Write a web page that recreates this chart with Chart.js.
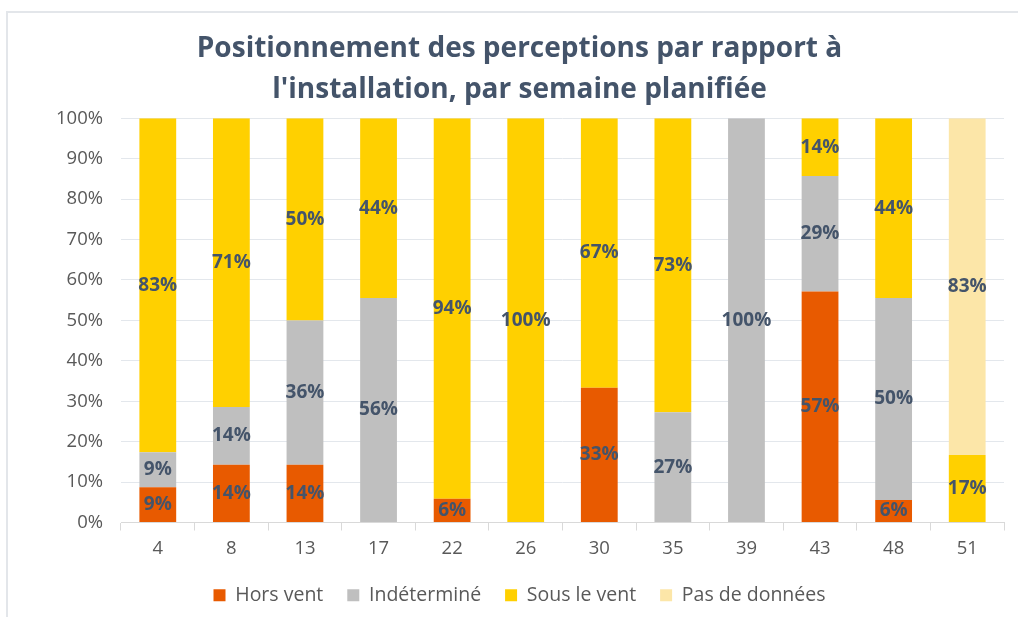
<!DOCTYPE html>
<html>
<head>
<meta charset="utf-8">
<script src="https://cdn.jsdelivr.net/npm/chart.js@4.4.1/dist/chart.umd.min.js"></script>
<style>
  html, body { margin: 0; padding: 0; background: #fff; }
  #wrap { position: relative; width: 1018px; height: 617px; overflow: hidden; }
  #cadre { position: absolute; left: 6px; top: 11px; width: 1100px; height: 700px;
           border-left: 2px solid #e3e6ea; border-top: 2px solid #e3e6ea; }
  canvas { position: absolute; left: 0; top: 0; }
</style>
</head>
<body>
<div id="wrap">
  <div id="cadre"></div>
  <canvas id="graphique" width="1018" height="617"></canvas>
</div>
<script>
// semaines planifiées
const semaines = ["4", "8", "13", "17", "22", "26", "30", "35", "39", "43", "48", "51"];

// parts en % par semaine
const horsVent     = [8.7, 14.29, 14.29, 0, 5.9, 0, 33.33, 0, 0, 57.14, 5.56, 0];
const indetermine  = [8.7, 14.29, 35.71, 55.56, 0, 0, 0, 27.27, 100, 28.57, 50, 0];
const sousLeVent   = [82.6, 71.43, 50, 44.44, 94.1, 100, 66.67, 72.73, 0, 14.29, 44.44, 16.67];
const pasDeDonnees = [0, 0, 0, 0, 0, 0, 0, 0, 0, 0, 0, 83.33];

const yTicks = [0, 10, 20, 30, 40, 50, 60, 70, 80, 90, 100];

const police = "'Open Sans', 'Noto Sans', sans-serif";

// étiquettes au centre des segments
const etiquettes = {
    id: 'etiquettes',
    afterDatasetsDraw(chart) {
        const ctx = chart.ctx;
        ctx.save();
        ctx.font = "bold 19px " + police;
        ctx.fillStyle = "#44546A";
        ctx.textAlign = "center";
        ctx.textBaseline = "middle";
        chart.data.datasets.forEach((ds, i) => {
            const meta = chart.getDatasetMeta(i);
            meta.data.forEach((bar, j) => {
                const v = ds.data[j];
                if (!v) return;
                ctx.fillText(Math.round(v) + "%", bar.x, (bar.y + bar.base) / 2);
            });
        });
        ctx.restore();
    }
};

const data = {
    labels: semaines,
    datasets: [
        { label: "Hors vent", data: horsVent, backgroundColor: "#E85A00" },
        { label: "Indéterminé", data: indetermine, backgroundColor: "#BFBFBF" },
        { label: "Sous le vent", data: sousLeVent, backgroundColor: "#FFD000" },
        { label: "Pas de données", data: pasDeDonnees, backgroundColor: "#FCE6A8" }
    ]
};

const config = {
    type: 'bar',
    data: data,
    plugins: [etiquettes],
    options: {
        responsive: false,
        animation: false,
        layout: { padding: { left: 35, right: 14, top: 0, bottom: 2 } },
        datasets: { bar: { categoryPercentage: 1, barPercentage: 0.5 } },
        scales: {
            x: {
                stacked: true,
                grid: { drawOnChartArea: false, color: "#D9D9D9", tickLength: 8 },
                border: { color: "#D9D9D9", width: 1 },
                ticks: { color: "#595959", font: { family: police, size: 18.5 }, padding: 7 },
                afterFit: s => { s.height = 39; }
            },
            y: {
                stacked: true,
                min: 0,
                max: 100,
                afterBuildTicks: s => { s.ticks = yTicks.map(v => ({ value: v })); },
                grid: { color: "#E3E7EC", drawTicks: false },
                border: { display: false },
                ticks: {
                    color: "#595959",
                    font: { family: police, size: 18.5 },
                    padding: 18,
                    callback: v => v + "%"
                },
                afterFit: s => { s.width = 86; }
            }
        },
        plugins: {
            legend: {
                position: 'bottom',
                labels: {
                    boxWidth: 12,
                    boxHeight: 12,
                    padding: 24,
                    color: "#595959",
                    font: { family: police, size: 19.5 }
                }
            },
            title: {
                display: true,
                text: ["Positionnement des perceptions par rapport à", "l'installation, par semaine planifiée"],
                color: "#44546A",
                font: { family: police, size: 28, weight: 'bold', lineHeight: 1.47 },
                padding: { top: 28, bottom: 8 }
            },
            tooltip: { enabled: false }
        }
    }
};

const monGraphique = new Chart(document.getElementById('graphique'), config);
</script>
</body>
</html>
